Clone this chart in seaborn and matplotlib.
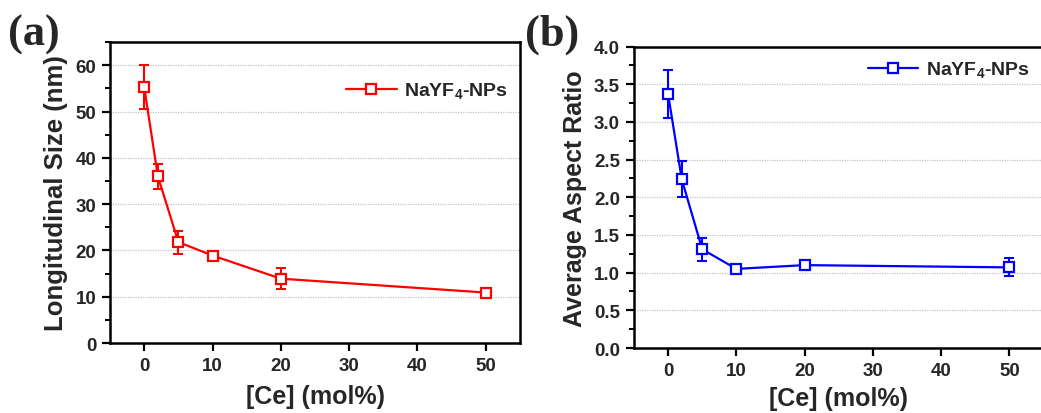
import numpy as np
import pandas as pd
import matplotlib
matplotlib.use("Agg")
import matplotlib.pyplot as plt
import seaborn as sns
from matplotlib.ticker import MultipleLocator

# ---- data ----
ce_mol = [0, 2, 5, 10, 20, 50]
long_size = [55.3, 36.0, 21.8, 18.9, 13.9, 10.9]
long_size_err = [4.7, 2.7, 2.5, 0.5, 2.3, 0.8]
aspect_ratio = [3.37, 2.24, 1.31, 1.05, 1.10, 1.07]
aspect_ratio_err = [0.32, 0.24, 0.15, 0.03, 0.03, 0.12]
series_label = "NaYF$_\\mathbf{4}$-NPs"
xlabel = "[Ce] (mol%)"
ylabel_a = "Longitudinal Size (nm)"
ylabel_b = "Average Aspect Ratio"

sns.set_theme(style="white")
plt.rcParams["font.family"] = ["Liberation Sans", "DejaVu Sans"]
plt.rcParams["font.weight"] = "bold"
plt.rcParams["mathtext.fontset"] = "custom"
plt.rcParams["mathtext.bf"] = "Liberation Sans:bold"
plt.rcParams["mathtext.rm"] = "Liberation Sans:bold"

fig = plt.figure(figsize=(10.41, 4.14), dpi=100)
ax_a = fig.add_axes([0.1057, 0.169, 0.3938, 0.727])
ax_b = fig.add_axes([0.609, 0.157, 0.3934, 0.728])

df_a = pd.DataFrame({"x": ce_mol, "y": long_size, "e": long_size_err})
df_b = pd.DataFrame({"x": ce_mol, "y": aspect_ratio, "e": aspect_ratio_err})


def draw(ax, df, color, ylabel, ylab_size, xpad, ylim, ymaj, ymin, leg_anchor):
    ax.yaxis.grid(True, color="#c4c4c4", linestyle=(0, (1, 1)), linewidth=0.9)
    ax.set_axisbelow(True)
    ax.errorbar(df["x"], df["y"], yerr=df["e"], fmt="none", ecolor=color,
                elinewidth=1.5, capsize=3.5, capthick=1.5, zorder=3)
    sns.lineplot(data=df, x="x", y="y", ax=ax, color=color, linewidth=1.6,
                 marker="s", markersize=7, markerfacecolor="white",
                 markeredgecolor=color, markeredgewidth=1.6, label=series_label,
                 zorder=4)
    ax.set_xlim(-5, 55)
    ax.set_ylim(*ylim)
    ax.xaxis.set_major_locator(MultipleLocator(10))
    ax.yaxis.set_major_locator(MultipleLocator(ymaj))
    ax.yaxis.set_minor_locator(MultipleLocator(ymin))
    ax.tick_params(axis="both", which="major", direction="out", length=6,
                   width=1.6, labelsize=13.5, pad=4, bottom=True, left=True,
                   top=False, right=False, color="black")
    ax.tick_params(axis="y", which="minor", direction="out", length=3.5,
                   width=1.4, left=True, right=False, color="black")
    for lab in ax.get_xticklabels() + ax.get_yticklabels():
        lab.set_fontweight("bold")
    for s in ax.spines.values():
        s.set_color("black")
        s.set_linewidth(1.8)
    ax.set_xlabel(xlabel, fontsize=18, fontweight="bold", labelpad=xpad)
    ax.set_ylabel(ylabel, fontsize=ylab_size, fontweight="bold", labelpad=5)
    leg = ax.legend(loc="upper right", bbox_to_anchor=leg_anchor, frameon=False,
                    fontsize=14, handlelength=2.6, handletextpad=0.4,
                    borderaxespad=0.2)
    for t in leg.get_texts():
        t.set_fontweight("bold")


draw(ax_a, df_a, "#ff0000", ylabel_a, 18.5, 7, (0, 65), 10, 5, (1.0, 0.91))
draw(ax_b, df_b, "#0000ff", ylabel_b, 18, 5, (0, 4.0), 0.5, 0.25, (0.995, 0.995))

fig.text(0.008, 0.965, "(a)", fontsize=32, fontweight="bold",
         family=["Liberation Serif", "DejaVu Serif"], va="top", ha="left")
fig.text(0.504, 0.965, "(b)", fontsize=32, fontweight="bold",
         family=["Liberation Serif", "DejaVu Serif"], va="top", ha="left")

fig.savefig("out.png", dpi=100)
